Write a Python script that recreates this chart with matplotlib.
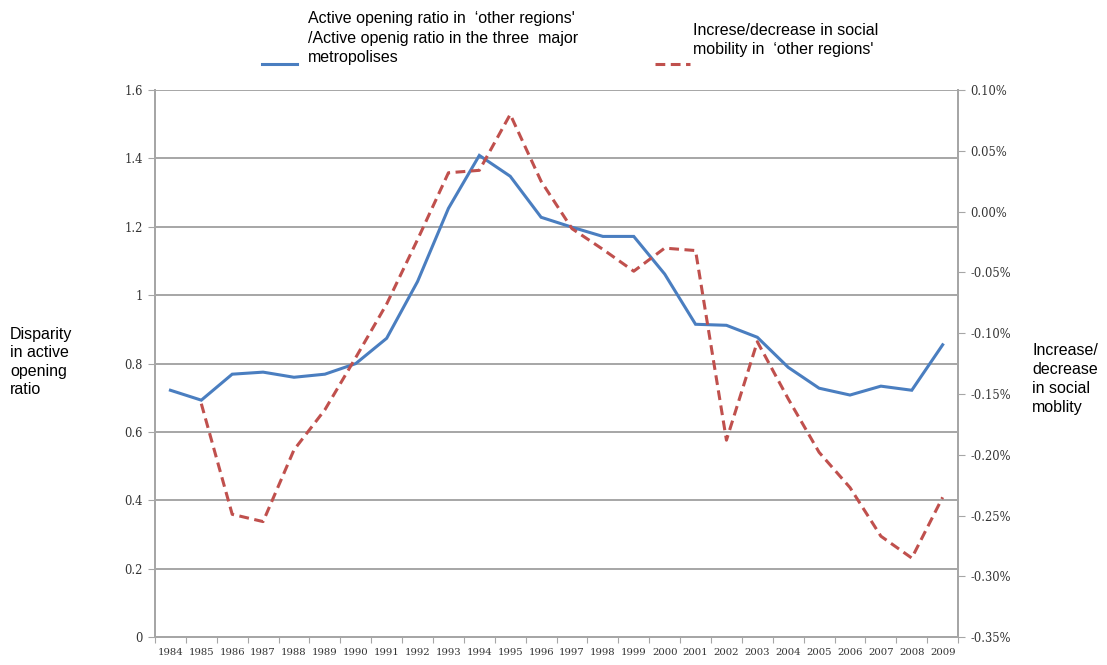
import numpy as np
import matplotlib
matplotlib.use("Agg")
import matplotlib.pyplot as plt
from matplotlib.lines import Line2D
from matplotlib.ticker import FuncFormatter

years = list(range(1984, 2010))

# left axis: disparity in active opening ratio
ratio = [0.722, 0.693, 0.769, 0.775, 0.760, 0.769, 0.800, 0.874, 1.040, 1.254,
         1.409, 1.348, 1.228, 1.199, 1.172, 1.172, 1.062, 0.915, 0.912, 0.877,
         0.789, 0.728, 0.708, 0.734, 0.722, 0.855]

# right axis: increase/decrease in social mobility (%), starts 1985
mobility = [np.nan, -0.158, -0.249, -0.255, -0.196, -0.163, -0.120, -0.076, -0.023, 0.032,
            0.034, 0.080, 0.025, -0.014, -0.031, -0.049, -0.030, -0.032, -0.188, -0.107,
            -0.154, -0.198, -0.227, -0.267, -0.285, -0.235]

left_ticks = [0, 0.2, 0.4, 0.6, 0.8, 1.0, 1.2, 1.4, 1.6]
left_labels = ["0", "0.2", "0.4", "0.6", "0.8", "1", "1.2", "1.4", "1.6"]
right_ticks = [-0.35, -0.30, -0.25, -0.20, -0.15, -0.10, -0.05, 0.00, 0.05, 0.10]

blue = "#4A7EC0"
red = "#C0504D"
grid_c = "#A6A6A6"
tick_font = "DejaVu Serif"
dash = (0, (3.2, 1.8))

fig = plt.figure(figsize=(11.07, 6.65), dpi=100)
ax = fig.add_axes([0.140, 0.042, 0.7255, 0.8225])
ax2 = ax.twinx()

x = np.arange(len(years))
ax.plot(x, ratio, color=blue, lw=2.2, solid_joinstyle="miter", zorder=3)
ax2.plot(x, mobility, color=red, lw=2.2, ls=dash, zorder=3)

ax.set_xlim(-0.5, len(years) - 0.5)
ax.set_ylim(0, 1.6)
ax2.set_ylim(-0.35, 0.10)

ax.set_yticks(left_ticks)
ax.set_yticklabels(left_labels, family=tick_font, fontsize=8.3, color="#333333")
ax.yaxis.grid(True, color=grid_c, lw=1.4)
ax.set_axisbelow(True)

ax2.set_yticks(right_ticks)
ax2.yaxis.set_major_formatter(FuncFormatter(lambda v, p: f"{v:.2f}%"))
for lab in ax2.get_yticklabels():
    lab.set_family(tick_font)
    lab.set_fontsize(8.3)
    lab.set_color("#333333")

ax.set_xticks(np.arange(-0.5, len(years), 1))
ax.set_xticklabels([])
ax.set_xticks(x, minor=True)
ax.set_xticklabels([str(y) for y in years], minor=True, family=tick_font,
                   fontsize=7.3, color="#333333")
ax.tick_params(axis="x", which="minor", length=0, pad=8)
ax.tick_params(axis="x", which="major", length=4, color=grid_c, direction="out")
ax.tick_params(axis="y", length=5, color=grid_c, pad=4)
ax2.tick_params(axis="y", length=5, color=grid_c, pad=4)

for a in (ax, ax2):
    a.spines["top"].set_visible(False)
    for s in ("left", "right", "bottom"):
        a.spines[s].set_color(grid_c)
        a.spines[s].set_linewidth(1.4)

# legend
lab_font = "Liberation Sans"
fig.add_artist(Line2D([262 / 1107, 297 / 1107], [1 - 64 / 665] * 2, color=blue, lw=2.2))
fig.text(308 / 1107, 1 - 38 / 665,
         "Active opening ratio in  \u2018other regions'\n/Active openig ratio in the three  major\nmetropolises",
         family=lab_font, fontsize=11.5, va="center", ha="left", linespacing=1.4)
fig.add_artist(Line2D([655 / 1107, 690 / 1107], [1 - 64 / 665] * 2, color=red, lw=2.2,
                      ls=dash))
fig.text(693 / 1107, 1 - 40 / 665,
         "Increse/decrease in social\nmobility in  \u2018other regions'",
         family=lab_font, fontsize=11.5, va="center", ha="left", linespacing=1.4)

# axis titles
fig.text(10 / 1107, 1 - 362 / 665, "Disparity\nin active\nopening\nratio",
         family=lab_font, fontsize=11.5, va="center", ha="left", linespacing=1.3)
fig.text(1032 / 1107, 1 - 379 / 665, "Increase/\ndecrease\nin social\nmoblity",
         family=lab_font, fontsize=11.5, va="center", ha="left", linespacing=1.35)

fig.savefig("out.png", dpi=100, facecolor="white")
